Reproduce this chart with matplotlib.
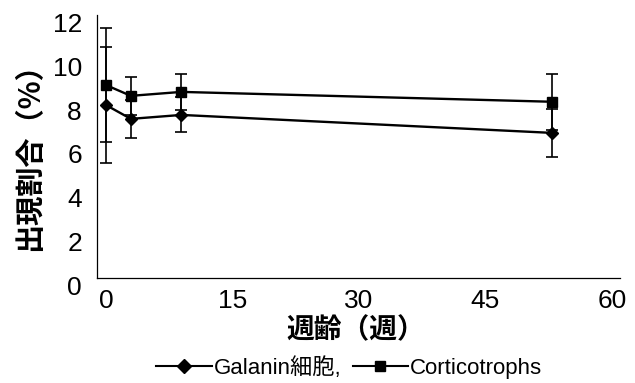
import matplotlib
matplotlib.use("Agg")
import matplotlib.pyplot as plt
from matplotlib.lines import Line2D
from matplotlib.transforms import ScaledTranslation

plt.rcParams['font.family'] = ['Liberation Sans', 'Noto Sans CJK JP', 'DejaVu Sans']

# 週齢 (weeks)
weeks = [1, 4, 10, 54]
galanin = [7.9, 7.26, 7.44, 6.62]
galanin_err = [2.65, 0.87, 0.8, 1.1]
cortico = [8.81, 8.31, 8.49, 8.04]
cortico_err = [2.6, 0.87, 0.83, 1.28]
series_names = ["Galanin細胞,", "Corticotrophs"]

xticks = [0, 15, 30, 45, 60]
yticks = [0, 2, 4, 6, 8, 10, 12]

fig = plt.figure(figsize=(6.35, 3.83), dpi=100)
ax = fig.add_axes([0.153, 0.274, 0.823, 0.687])

ax.errorbar(weeks, galanin, yerr=galanin_err, color="black", lw=1.7,
            marker="D", ms=6.5, elinewidth=1.2, capsize=4, capthick=1.2)
ax.errorbar(weeks, cortico, yerr=cortico_err, color="black", lw=1.7,
            marker="s", ms=6.5, elinewidth=1.2, capsize=4, capthick=1.2)

ax.set_xlim(0, 62)
ax.set_ylim(0, 12)
ax.set_xticks(xticks)
ax.set_yticks(yticks)
ax.tick_params(length=0, labelsize=19)
ax.tick_params(axis="x", pad=8)
ax.tick_params(axis="y", pad=11)
for s in ["top", "right"]:
    ax.spines[s].set_visible(False)
for s in ["left", "bottom"]:
    ax.spines[s].set_linewidth(0.9)

# labels in the scan sit a little off the axis lines
for lab in ax.get_xticklabels():
    lab.set_transform(lab.get_transform() + ScaledTranslation(0.09, 0, fig.dpi_scale_trans))
for lab in ax.get_yticklabels():
    lab.set_transform(lab.get_transform() + ScaledTranslation(0, -0.075, fig.dpi_scale_trans))

ax.set_ylabel("出現割合（%）", fontsize=21, fontweight="bold",
              family=['Noto Sans CJK JP'], va="center")
ax.yaxis.set_label_coords(-0.13, 0.49)
ax.set_xlabel("週齢（週）", fontsize=20, fontweight="bold",
              family=['Noto Sans CJK JP'], va="center")
ax.xaxis.set_label_coords(0.495, -0.2)

handles = [Line2D([], [], color="black", lw=1.5, marker="D", ms=7),
           Line2D([], [], color="black", lw=1.5, marker="s", ms=7)]
fig.legend(handles, series_names, loc="center", bbox_to_anchor=(0.55, 0.04), ncol=2,
           frameon=False, fontsize=16, handlelength=2.5, handletextpad=0.1,
           columnspacing=0.5, borderpad=0)

fig.savefig("out.png", dpi=100)
